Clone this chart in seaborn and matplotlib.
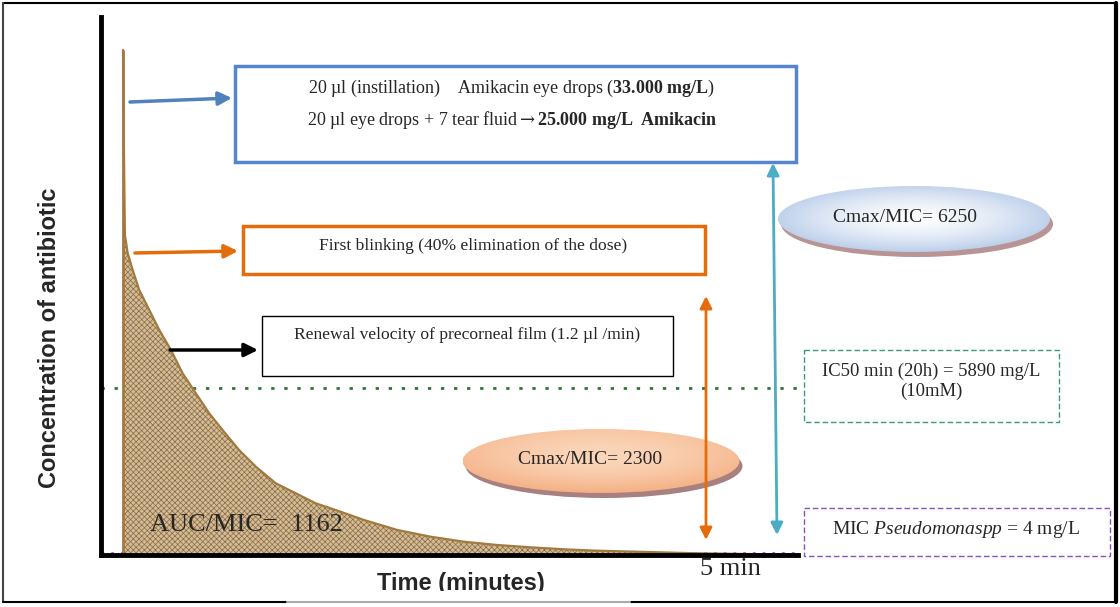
import numpy as np
import pandas as pd
import seaborn as sns
import matplotlib.pyplot as plt
from matplotlib.patches import Rectangle, Ellipse
from matplotlib.colors import to_rgb

# curve: time in minutes, concentration in % of axis height
time_min = [0.000, 0.008, 0.016, 0.039, 0.080, 0.134, 0.203, 0.299, 0.395, 0.491,
            0.600, 0.710, 0.820, 0.956, 1.094, 1.258, 1.423, 1.587, 1.752, 1.984,
            2.259, 2.533, 2.807, 3.081, 3.355, 3.629, 3.904, 4.315, 4.726, 5.549]
conc_rel = [93.87, 75.28, 59.48, 56.08, 52.97, 49.26, 46.15, 41.82, 38.10, 33.77,
            30.06, 26.34, 23.23, 19.52, 16.42, 13.33, 11.47, 9.61, 8.36, 6.51,
            4.65, 3.40, 2.47, 1.86, 1.43, 1.06, 0.80, 0.56, 0.32, 0.06]
ic50_level = 31.0
mic_level = 0.37
xtick_pos = [5]
xtick_labels = ['5 min']

sns.set_style('white')
plt.rcParams['font.family'] = ['Liberation Serif', 'DejaVu Serif']
plt.rcParams['mathtext.fontset'] = 'custom'
plt.rcParams['mathtext.rm'] = 'Liberation Serif'
plt.rcParams['mathtext.it'] = 'Liberation Serif:italic'
plt.rcParams['mathtext.bf'] = 'Liberation Serif:bold'
plt.rcParams['mathtext.sf'] = 'DejaVu Serif'
plt.rcParams['hatch.linewidth'] = 0.5

W, H = 1120, 607
fig = plt.figure(figsize=(11.2, 6.07), dpi=100)
fig.patch.set_facecolor('white')


def px_rect(x0, y0, x1, y1):
    return [x0 / W, 1 - y1 / H, (x1 - x0) / W, (y1 - y0) / H]


# main plot
ax = fig.add_axes(px_rect(101, 17, 798, 555))
df = pd.DataFrame({'t': time_min, 'c': conc_rel})
ax.axhline(ic50_level, color='#2a7a35', ls=(0, (1.2, 3.5)), lw=2, zorder=1)
ax.axhline(mic_level, color='#b44ee0', ls=(0, (1, 2.5)), lw=2, zorder=1)
ax.fill_between(df.t, 0, df.c, facecolor='#d3bc98', edgecolor='#8a6a40',
                hatch='xxxxxx', lw=0, zorder=2)
sns.lineplot(data=df, x='t', y='c', ax=ax, color='#a27a3e', lw=1.6, zorder=3)
ax.vlines(time_min[0], 0, conc_rel[0], color='#a27a3e', lw=2, zorder=3)
ax.set_xlim(-0.181, 5.559)
ax.set_ylim(0, 100)
ax.set_yticks([])
ax.set_xticks(xtick_pos, xtick_labels, fontsize=19)
ax.tick_params(axis='x', length=0, pad=2.5)
for s in ['top', 'right']:
    ax.spines[s].set_visible(False)
for s in ['left', 'bottom']:
    ax.spines[s].set_linewidth(3.5)
    ax.spines[s].set_color('black')
    ax.spines[s].set_zorder(4)
sans = ['Liberation Sans', 'DejaVu Sans']
ax.set_ylabel('Concentration of antibiotic', fontfamily=sans, fontweight='bold', fontsize=17)
ax.yaxis.set_label_coords(-0.058, 0.403)
ax.set_xlabel('Time (minutes)', fontfamily=sans, fontweight='bold', fontsize=17)
ax.xaxis.set_label_coords(0.516, -0.031)

# overlay in pixel coordinates
ov = fig.add_axes([0, 0, 1, 1])
ov.set_xlim(0, W)
ov.set_ylim(H, 0)
ov.axis('off')

# outer frame
ov.plot([3, 1116], [3, 3], color='black', lw=1.5)
ov.plot([3, 3], [3, 602], color='#444444', lw=1.5)
ov.plot([1116, 1116], [3, 602], color='black', lw=3)
ov.plot([3, 287], [602, 602], color='black', lw=1.5)
ov.plot([630, 1116], [602, 602], color='black', lw=1.5)
ov.add_patch(Rectangle((287, 591), 343, 11, fc='white', ec='none', zorder=5))
ov.plot([287, 630], [602, 602], color='#aaaaaa', lw=1.5, zorder=6)

# boxes
ov.add_patch(Rectangle((235, 66), 561, 96, fill=False, ec='#5585d0', lw=2.5))
ov.text(511, 88, '20 µl (instillation)    Amikacin eye drops ($\\mathbf{33.000\\ mg/L}$)',
        ha='center', va='center', fontsize=13)
ov.text(512, 120, '20 µl eye drops + 7 tear fluid$\\mathsf{\\rightarrow}\\mathbf{25.000\\ mg/L\\ \\ Amikacin}$',
        ha='center', va='center', fontsize=13)

ov.add_patch(Rectangle((243, 226), 462, 48, fill=False, ec='#e46c0a', lw=2.5))
ov.text(473, 246, 'First blinking (40% elimination of the dose)',
        ha='center', va='center', fontsize=12.6)

ov.add_patch(Rectangle((262, 316), 411, 60, fill=False, ec='black', lw=1))
ov.text(467, 335, 'Renewal velocity of precorneal film (1.2 µl /min)',
        ha='center', va='center', fontsize=12.6)

ov.add_patch(Rectangle((804, 350), 255, 72, fill=False, ec='#3a9e6e', lw=1, ls=(0, (4, 2))))
ov.text(931, 371, 'IC50 min (20h) = 5890 mg/L', ha='center', va='center', fontsize=13.4)
ov.text(931, 391, '(10mM)', ha='center', va='center', fontsize=13.4)

ov.add_patch(Rectangle((804, 508), 306, 48, fill=False, ec='#8e4fbf', lw=1, ls=(0, (4, 2))))
ov.text(956, 529, 'MIC $\\mathit{Pseudomonaspp}$ = 4 mg/L', ha='center', va='center', fontsize=14)


def gradient_ellipse(cx, cy, w, h, inner, outer, shadow, vert):
    ov.add_patch(Ellipse((cx + 3, cy + 5), w, h, fc=shadow, ec='none', zorder=2))
    el = Ellipse((cx, cy), w, h, fc='none', ec='none', zorder=3)
    ov.add_patch(el)
    yy, xx = np.mgrid[-1:1:120j, -1:1:240j]
    r = np.clip(np.hypot(xx, yy), 0, 1)
    k = np.clip((1 - vert) * r ** 1.6 + vert * (yy + 1) / 2, 0, 1)
    c0 = np.array(to_rgb(inner))
    c1 = np.array(to_rgb(outer))
    img = c0 + (c1 - c0) * k[..., None]
    im = ov.imshow(img, extent=(cx - w / 2, cx + w / 2, cy + h / 2, cy - h / 2),
                   zorder=3, aspect='auto', interpolation='bilinear')
    im.set_clip_path(el)


gradient_ellipse(914, 219, 272, 66, '#ffffff', '#bccfea', '#b89494', 0.1)
ov.text(905, 217, 'Cmax/MIC= 6250', ha='center', va='center', fontsize=14, zorder=4)
gradient_ellipse(601, 461, 277, 64, '#fde0c8', '#f4b084', '#a88080', 0.45)
ov.text(590, 460, 'Cmax/MIC= 2300', ha='center', va='center', fontsize=14, zorder=4)

ov.set_xlim(0, W)
ov.set_ylim(H, 0)

# arrows
def arrow(p0, p1, color, style='-|>', lw=2.5, ms=20):
    ov.annotate('', xy=p1, xytext=p0,
                arrowprops=dict(arrowstyle=style, color=color, lw=lw,
                                mutation_scale=ms, shrinkA=0, shrinkB=0),
                zorder=6)


arrow((130, 102), (232, 98), '#4f81bd')
arrow((135, 253), (238, 251), '#e46c0a')
arrow((170, 350), (258, 350), 'black')
arrow((706, 296), (706, 540), '#e46c0a', '<|-|>', 2, 18)
arrow((773, 163), (777, 535), '#4bacc6', '<|-|>', 2, 18)

ov.text(150, 525, 'AUC/MIC=  1162', ha='left', va='center', fontsize=19, zorder=6)

fig.savefig('out.png', dpi=100)
